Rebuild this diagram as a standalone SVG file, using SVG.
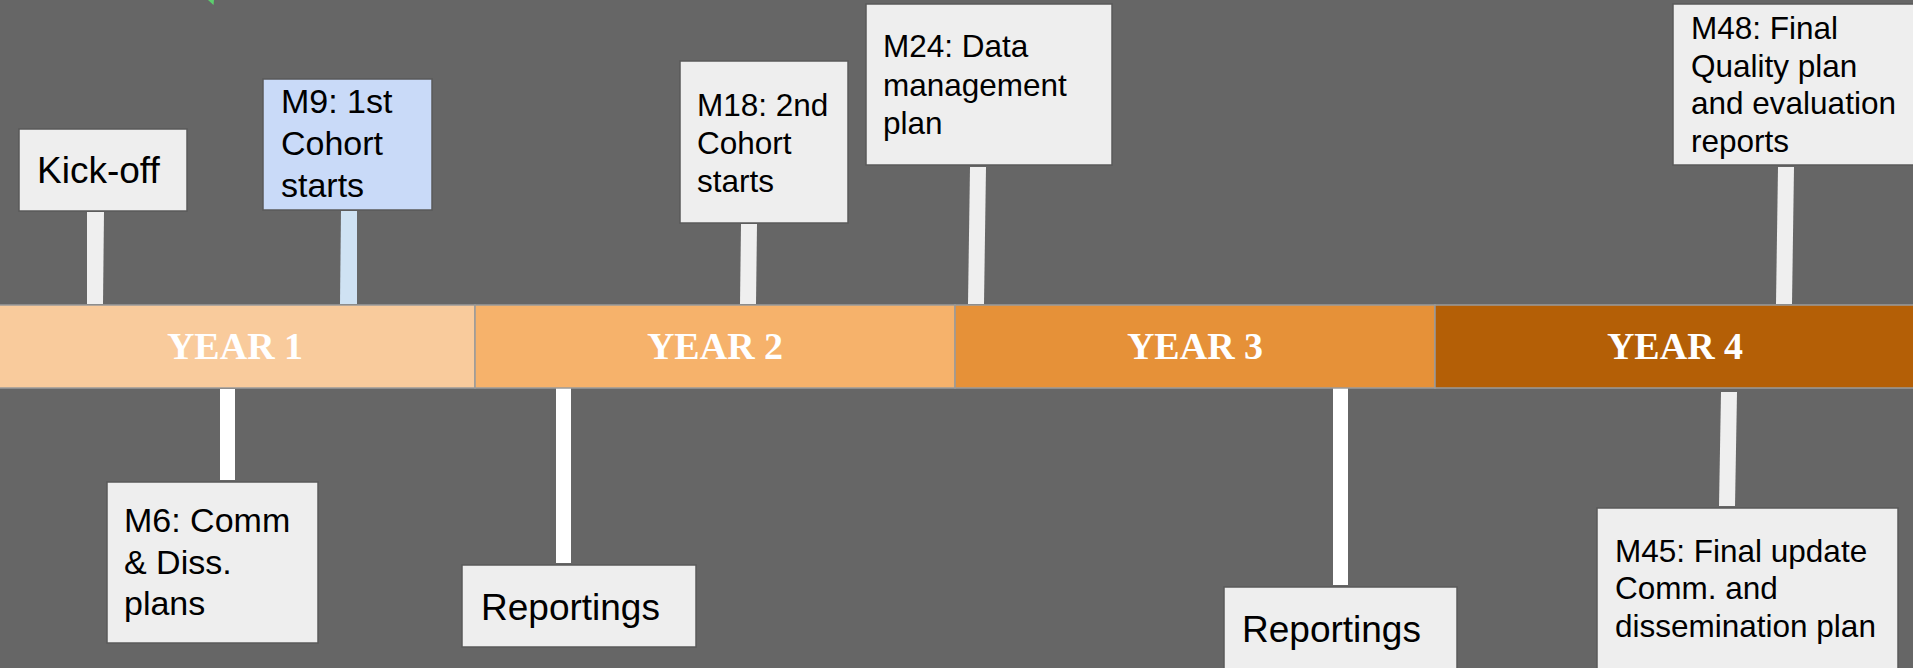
<svg xmlns="http://www.w3.org/2000/svg" width="1913" height="668" viewBox="0 0 1913 668">
<style>
.box{fill:#eeeeee;stroke:#5a5a5a;stroke-width:1.5}
.t{font-family:"Liberation Sans",Arial,sans-serif;fill:#000000}
.yr{font-family:"Liberation Serif","DejaVu Serif",serif;font-weight:bold;font-size:38px;fill:#ffffff;text-anchor:middle}
.bar{stroke:#9a9a9a;stroke-width:1.5}
.p1{fill:#efefef}
.p2{fill:#ffffff}
.p3{fill:#cfe2f3}
</style>
<rect width="1913" height="668" fill="#666666"/>
<polygon points="208,0 214,0 213.5,5" fill="#5ccf6e"/>
<g id="connectors">
<polygon class="p1" points="87,212 104,212 103,304 87,304"/>
<polygon class="p3" points="341,211 357,211 357,304 340,304"/>
<polygon class="p1" points="741,224 757,224 756,304 740,304"/>
<polygon class="p1" points="970,167 986,167 984,304 968,304"/>
<polygon class="p1" points="1778,167 1794,167 1792,304 1776,304"/>
<polygon class="p2" points="220,389 235,389 235,480 220,480"/>
<polygon class="p2" points="556,385 571,385 571,563 556,563"/>
<polygon class="p2" points="1333,385 1348,385 1348,585 1333,585"/>
<polygon class="p1" points="1721,392 1737,392 1735,506 1719,506"/>
</g>
<g id="timeline">
<rect class="bar" x="-2" y="305" width="477" height="83" fill="#f9cb9c"/>
<rect class="bar" x="475" y="305" width="480" height="83" fill="#f6b26b"/>
<rect class="bar" x="955" y="305" width="480" height="83" fill="#e69138"/>
<rect class="bar" x="1435" y="305" width="480" height="83" fill="#b45f06"/>
<text class="yr" x="235" y="359">YEAR 1</text>
<text class="yr" x="715" y="359">YEAR 2</text>
<text class="yr" x="1195" y="359">YEAR 3</text>
<text class="yr" x="1675" y="359">YEAR 4</text>
</g>
<g id="kickoff">
<rect class="box" x="19" y="129" width="168" height="82"/>
<text class="t" x="37" y="183" font-size="37">Kick-off</text>
</g>
<g id="m9">
<rect class="box" x="263" y="79" width="169" height="131" style="fill:#c9daf8"/>
<text class="t" font-size="34"><tspan x="281" y="113">M9: 1st</tspan><tspan x="281" y="155">Cohort</tspan><tspan x="281" y="197">starts</tspan></text>
</g>
<g id="m18">
<rect class="box" x="680" y="61" width="168" height="162"/>
<text class="t" font-size="31.5"><tspan x="697" y="116">M18: 2nd</tspan><tspan x="697" y="154">Cohort</tspan><tspan x="697" y="192">starts</tspan></text>
</g>
<g id="m24">
<rect class="box" x="866" y="4" width="246" height="161"/>
<text class="t" font-size="31.5"><tspan x="883" y="57">M24: Data</tspan><tspan x="883" y="96">management</tspan><tspan x="883" y="134">plan</tspan></text>
</g>
<g id="m48">
<rect class="box" x="1673" y="4" width="245" height="161"/>
<text class="t" font-size="31.5"><tspan x="1691" y="39">M48: Final</tspan><tspan x="1691" y="77">Quality plan</tspan><tspan x="1691" y="114">and evaluation</tspan><tspan x="1691" y="152">reports</tspan></text>
</g>
<g id="m6">
<rect class="box" x="107" y="482" width="211" height="161"/>
<text class="t" font-size="34"><tspan x="124" y="532">M6: Comm</tspan><tspan x="124" y="574">&amp; Diss.</tspan><tspan x="124" y="615">plans</tspan></text>
</g>
<g id="reportings1">
<rect class="box" x="462" y="565" width="234" height="82"/>
<text class="t" x="481" y="620" font-size="37">Reportings</text>
</g>
<g id="reportings2">
<rect class="box" x="1224" y="587" width="233" height="90"/>
<text class="t" x="1242" y="642" font-size="37">Reportings</text>
</g>
<g id="m45">
<rect class="box" x="1597" y="508" width="301" height="170"/>
<text class="t" font-size="31.5"><tspan x="1615" y="562">M45: Final update</tspan><tspan x="1615" y="599">Comm. and</tspan><tspan x="1615" y="637">dissemination plan</tspan></text>
</g>
</svg>
